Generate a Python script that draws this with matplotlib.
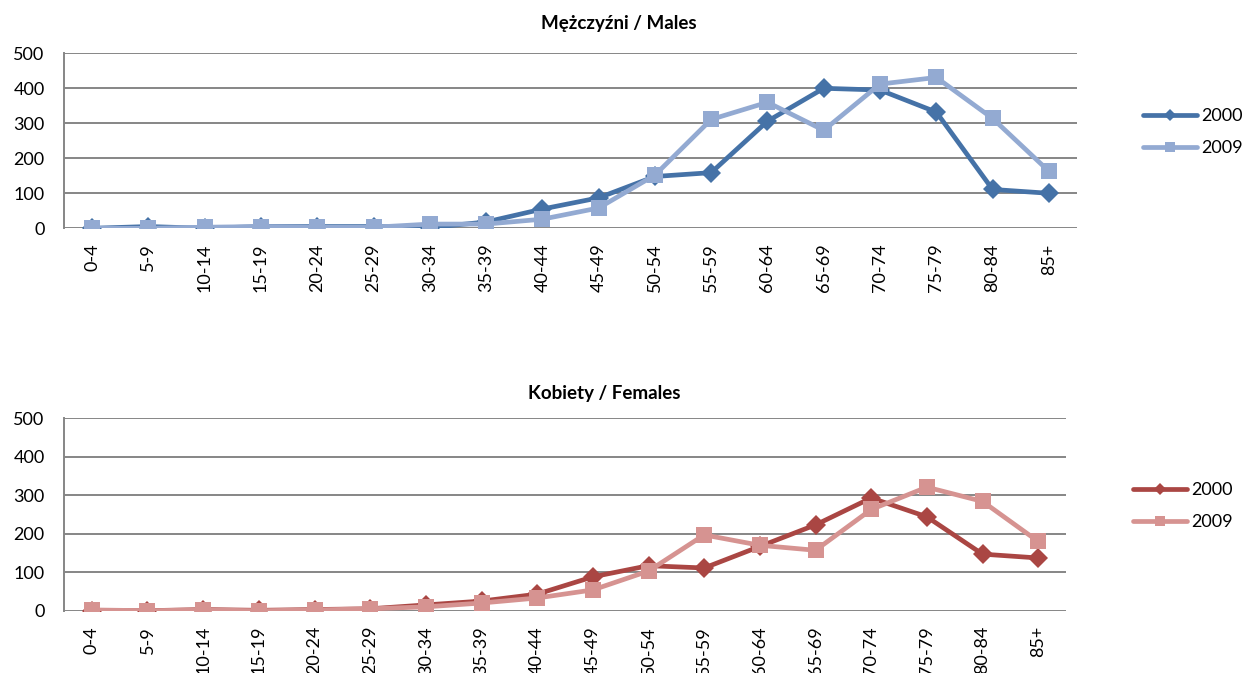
import matplotlib
matplotlib.use("Agg")
import matplotlib.pyplot as plt
import numpy as np

plt.rcParams['font.family'] = ['Lato', 'DejaVu Sans']

# Data
age_groups = ['0-4', '5-9', '10-14', '15-19', '20-24', '25-29', '30-34', '35-39',
              '40-44', '45-49', '50-54', '55-59', '60-64', '65-69', '70-74',
              '75-79', '80-84', '85+']
years = ['2000', '2009']

males_2000 = [0, 5, 0, 5, 5, 5, 2, 18, 55, 87, 148, 159, 306, 400, 395, 332, 111, 100]
males_2009 = [0, 0, 3, 5, 3, 3, 12, 12, 26, 58, 152, 311, 360, 280, 412, 431, 314, 163]

females_2000 = [0, 0, 3, 1, 3, 5, 15, 25, 43, 88, 117, 111, 167, 223, 293, 244, 147, 137]
females_2009 = [2, 0, 2, 0, 2, 5, 10, 20, 33, 54, 103, 197, 170, 157, 263, 321, 284, 180]

yticks = [0, 100, 200, 300, 400, 500]

GRID = '#868686'


def draw_panel(ax, s2000, s2009, colors):
    x = np.arange(len(age_groups))
    for v in yticks:
        ax.axhline(v, color=GRID, lw=1.4, zorder=1)
    ax.plot(x, s2000, color=colors[0], lw=3.4, marker='D', ms=10, mew=0,
            label=years[0], zorder=3, solid_capstyle='round')
    ax.plot(x, s2009, color=colors[1], lw=3.4, marker='s', ms=11, mew=0,
            label=years[1], zorder=4, solid_capstyle='round')
    ax.set_xlim(-0.5, len(age_groups) - 0.5)
    ax.set_ylim(0, 500)
    ax.set_yticks(yticks)
    ax.set_xticks(x)
    ax.set_xticklabels(age_groups, rotation=90)
    ax.tick_params(axis='y', length=0, pad=14, labelsize=13)
    ax.tick_params(axis='x', length=0, pad=11, labelsize=13)
    for s in ['top', 'right', 'bottom']:
        ax.spines[s].set_visible(False)
    ax.spines['left'].set_color(GRID)
    ax.spines['left'].set_linewidth(1.4)


fig = plt.figure(figsize=(12.46, 6.73), dpi=100)

ax1 = fig.add_axes([0.05136, 0.6608, 0.8130, 0.2600])
draw_panel(ax1, males_2000, males_2009, ['#4572A7', '#93AAD2'])
fig.text(619 / 1246, 1 - 24 / 673, 'Mężczyźni / Males', ha='center', va='center',
         fontsize=13.5, fontweight='bold')
h, l = ax1.get_legend_handles_labels()
fig.legend(h, l, loc='upper left', bbox_to_anchor=(1143 / 1246, 1 - 108 / 673),
           frameon=False, fontsize=13, handlelength=3.0, handletextpad=0.2,
           borderpad=0, borderaxespad=0, labelspacing=0.9, markerscale=0.65)

ax2 = fig.add_axes([0.05136, 0.09257, 0.8042, 0.2859])
draw_panel(ax2, females_2000, females_2009, ['#AA4643', '#D69391'])
fig.text(604 / 1246, 1 - 394 / 673, 'Kobiety / Females', ha='center', va='center',
         fontsize=13.5, fontweight='bold')
h, l = ax2.get_legend_handles_labels()
fig.legend(h, l, loc='upper left', bbox_to_anchor=(1133 / 1246, 1 - 482 / 673),
           frameon=False, fontsize=13, handlelength=3.0, handletextpad=0.2,
           borderpad=0, borderaxespad=0, labelspacing=0.9, markerscale=0.65)

fig.savefig('out.png', dpi=100)
